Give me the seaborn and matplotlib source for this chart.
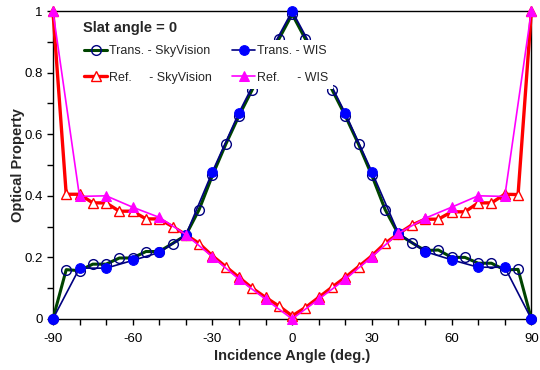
import numpy as np
import pandas as pd
import matplotlib
matplotlib.use("Agg")
import matplotlib.pyplot as plt
import seaborn as sns
from matplotlib.ticker import MultipleLocator, FixedLocator

# ---- data ----
angles_sv = [-90, -85, -80, -75, -70, -65, -60, -55, -50, -45, -40, -35, -30, -25, -20, -15, -10, -5,
             0, 5, 10, 15, 20, 25, 30, 35, 40, 45, 50, 55, 60, 65, 70, 75, 80, 85, 90]
trans_sv = [0.0, 0.16, 0.157, 0.178, 0.178, 0.198, 0.198, 0.219, 0.219, 0.245, 0.272, 0.355, 0.466,
            0.567, 0.66, 0.745, 0.83, 0.909, 0.99, 0.909, 0.83, 0.745, 0.66, 0.567, 0.466, 0.355,
            0.275, 0.248, 0.222, 0.224, 0.2, 0.2, 0.181, 0.181, 0.159, 0.161, 0.0]
ref_sv = [1.0, 0.405, 0.405, 0.377, 0.377, 0.35, 0.35, 0.325, 0.325, 0.30, 0.274, 0.245, 0.205,
          0.17, 0.135, 0.10, 0.07, 0.042, 0.01, 0.037, 0.07, 0.103, 0.135, 0.17, 0.205, 0.246,
          0.277, 0.305, 0.324, 0.324, 0.348, 0.348, 0.377, 0.377, 0.405, 0.404, 1.0]

angles_wis = [-90, -80, -70, -60, -50, -40, -30, -20, -10, 0, 10, 20, 30, 40, 50, 60, 70, 80, 90]
trans_wis = [0.0, 0.165, 0.165, 0.19, 0.216, 0.272, 0.478, 0.67, 0.84, 1.0, 0.84, 0.668, 0.478,
             0.278, 0.219, 0.192, 0.168, 0.168, 0.0]
ref_wis = [1.0, 0.398, 0.40, 0.363, 0.33, 0.274, 0.202, 0.129, 0.064, 0.0, 0.064, 0.129, 0.202,
           0.278, 0.327, 0.363, 0.40, 0.398, 1.0]

labels = ["Trans. - SkyVision", "Ref.     - SkyVision", "Trans. - WIS", "Ref.     - WIS"]
xticks = [-90, -60, -30, 0, 30, 60, 90]
yticks = [0, 0.2, 0.4, 0.6, 0.8, 1.0]
ytick_labels = ["0", "0.2", "0.4", "0.6", "0.8", "1"]
title_text = "Slat angle = 0"
xlabel = "Incidence Angle (deg.)"
ylabel = "Optical Property"

sns.set_style("ticks")
plt.rcParams["font.family"] = ["Liberation Sans", "DejaVu Sans"]
plt.rcParams["axes.unicode_minus"] = False

fig = plt.figure(figsize=(5.4, 3.7), dpi=100)
ax = fig.add_axes([0.098, 0.138, 0.886, 0.832])

df_sv = pd.DataFrame({"angle": angles_sv, "trans": trans_sv, "ref": ref_sv})
df_wis = pd.DataFrame({"angle": angles_wis, "trans": trans_wis, "ref": ref_wis})

sns.lineplot(data=df_sv, x="angle", y="trans", ax=ax, color="#004400", linewidth=2.2,
             marker="o", markersize=7, markerfacecolor="none", markeredgecolor="#000080",
             markeredgewidth=1.0, clip_on=False, label=labels[0], zorder=3)
sns.lineplot(data=df_sv, x="angle", y="ref", ax=ax, color="#ff0000", linewidth=2.4,
             marker="^", markersize=7, markerfacecolor="white", markeredgecolor="#ff0000",
             markeredgewidth=1.0, clip_on=False, label=labels[1], zorder=3)
sns.lineplot(data=df_wis, x="angle", y="trans", ax=ax, color="#000080", linewidth=1.2,
             marker="o", markersize=7, markerfacecolor="#0000ff", markeredgecolor="#0000ff",
             clip_on=False, label=labels[2], zorder=4)
sns.lineplot(data=df_wis, x="angle", y="ref", ax=ax, color="#ff00ff", linewidth=1.2,
             marker="^", markersize=7, markerfacecolor="#ff00ff", markeredgecolor="#ff00ff",
             clip_on=False, label=labels[3], zorder=4)

ax.set_xlim(-90, 90)
ax.set_ylim(0, 1)
ax.xaxis.set_major_locator(FixedLocator(xticks))
ax.xaxis.set_minor_locator(MultipleLocator(10))
ax.set_yticks(yticks)
ax.set_yticklabels(ytick_labels)
ax.yaxis.set_minor_locator(MultipleLocator(0.1))
ax.tick_params(axis="both", which="both", direction="out", length=4, width=1, color="black",
               labelsize=9.5, labelcolor="black")
ax.tick_params(axis="x", which="major", pad=6)
for s in ax.spines.values():
    s.set_visible(True)
    s.set_color("black")
    s.set_linewidth(1.0)

ax.set_xlabel(xlabel, fontsize=10.5, fontweight="bold", labelpad=3)
ax.set_ylabel(ylabel, fontsize=10.5, fontweight="bold", labelpad=-0.5)

h, l = ax.get_legend_handles_labels()
leg = ax.legend(h, l, ncol=2, loc="upper left", bbox_to_anchor=(0.055, 0.905),
                borderaxespad=0, borderpad=0.4, prop={"size": 9}, handlelength=1.85,
                handletextpad=0.15, columnspacing=1.6, labelspacing=1.15,
                frameon=True, framealpha=1, facecolor="white", edgecolor="none", fancybox=False)
leg.set_zorder(10)

ax.text(0.063, 0.945, title_text, transform=ax.transAxes, fontsize=10.5, fontweight="bold",
        ha="left", va="center", zorder=11)

fig.savefig("out.png", dpi=100)
